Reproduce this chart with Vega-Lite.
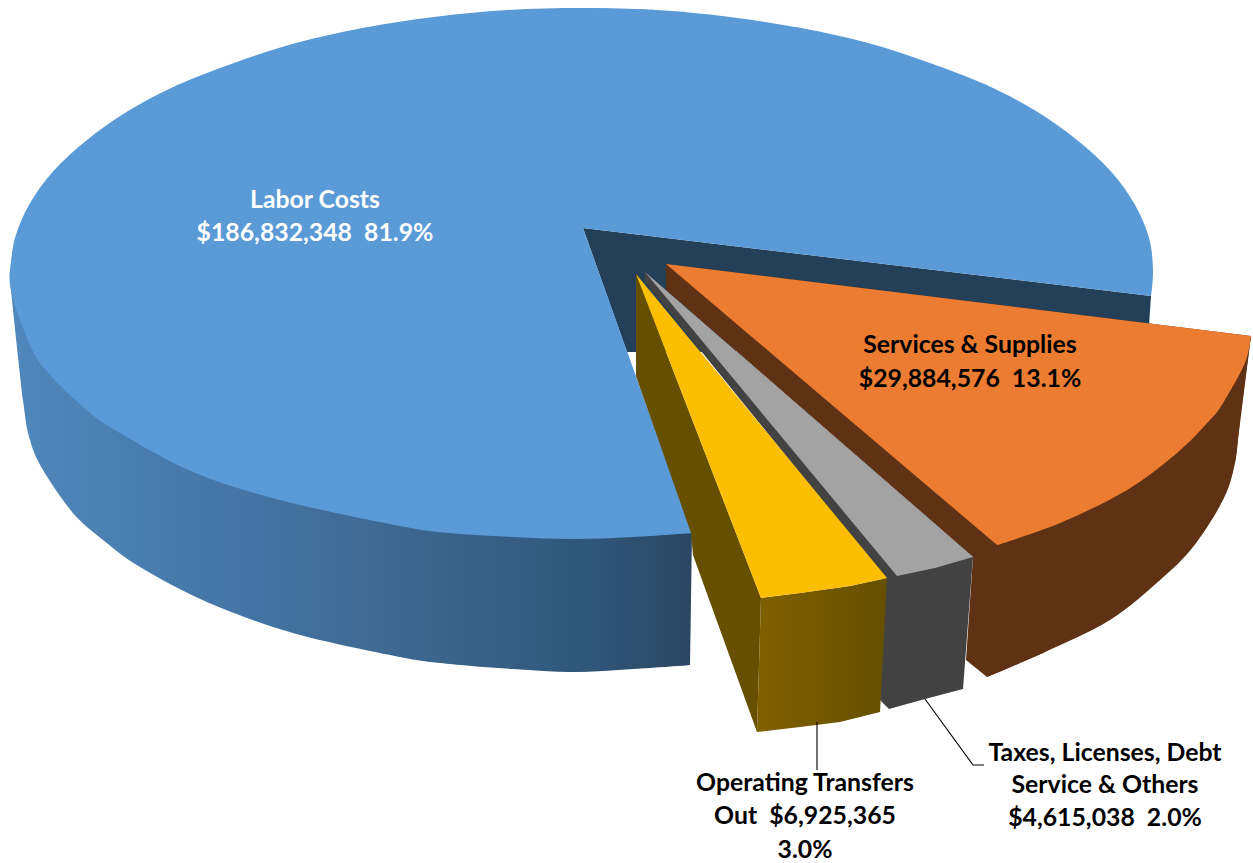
{
"$schema":"https://vega.github.io/schema/vega-lite/v6.json",
"width":1253,"height":863,"padding":0,
"autosize":{"type":"fit","contains":"padding"},
"background":"white",
"config":{"view":{"stroke":null}},
"datasets":{
"outlines":[
{"p":"blueSideCurve","i":1,"x":690,"y":665},{"p":"blueSideCurve","i":2,"x":633,"y":669},{"p":"blueSideCurve","i":3,"x":573,"y":672},{"p":"blueSideCurve","i":4,"x":513,"y":669},{"p":"blueSideCurve","i":5,"x":450,"y":664},{"p":"blueSideCurve","i":6,"x":400,"y":657},{"p":"blueSideCurve","i":7,"x":293,"y":633},{"p":"blueSideCurve","i":8,"x":207,"y":602},{"p":"blueSideCurve","i":9,"x":140,"y":567},{"p":"blueSideCurve","i":10,"x":103,"y":540},{"p":"blueSideCurve","i":11,"x":73,"y":513},{"p":"blueSideCurve","i":12,"x":43,"y":470},{"p":"blueSideCurve","i":13,"x":30,"y":440},{"p":"blueSideCurve","i":14,"x":23,"y":400},{"p":"blueSideCurve","i":15,"x":11,"y":290},{"p":"blueSideCurve","i":16,"x":10,"y":272},
{"p":"blueSidePoly","i":1,"x":10,"y":272},{"p":"blueSidePoly","i":2,"x":692,"y":533},{"p":"blueSidePoly","i":3,"x":690,"y":665},{"p":"blueSidePoly","i":4,"x":573,"y":672},{"p":"blueSidePoly","i":5,"x":400,"y":657},{"p":"blueSidePoly","i":6,"x":207,"y":602},{"p":"blueSidePoly","i":7,"x":73,"y":513},{"p":"blueSidePoly","i":8,"x":23,"y":400},
{"p":"wall","i":1,"x":583,"y":228},{"p":"wall","i":2,"x":1151,"y":296},{"p":"wall","i":3,"x":1148,"y":340},{"p":"wall","i":4,"x":700,"y":352},{"p":"wall","i":5,"x":627,"y":352},
{"p":"blueArc1","i":1,"x":1151,"y":296},{"p":"blueArc1","i":2,"x":1153,"y":270},{"p":"blueArc1","i":3,"x":1149,"y":238},{"p":"blueArc1","i":4,"x":1134.5,"y":204},{"p":"blueArc1","i":5,"x":1110.5,"y":171},{"p":"blueArc1","i":6,"x":1077,"y":140},{"p":"blueArc1","i":7,"x":1036,"y":111},{"p":"blueArc1","i":8,"x":986.5,"y":85},{"p":"blueArc1","i":9,"x":930,"y":63},{"p":"blueArc1","i":10,"x":868,"y":43},{"p":"blueArc1","i":11,"x":801,"y":28},{"p":"blueArc1","i":12,"x":730,"y":17},{"p":"blueArc1","i":13,"x":657,"y":10},{"p":"blueArc1","i":14,"x":582,"y":8},
{"p":"blueArc2","i":1,"x":657,"y":10},{"p":"blueArc2","i":2,"x":582,"y":8},{"p":"blueArc2","i":3,"x":507,"y":10},{"p":"blueArc2","i":4,"x":434,"y":17},{"p":"blueArc2","i":5,"x":363,"y":28},{"p":"blueArc2","i":6,"x":296,"y":43},{"p":"blueArc2","i":7,"x":234,"y":63},{"p":"blueArc2","i":8,"x":177.5,"y":85},{"p":"blueArc2","i":9,"x":128,"y":111},{"p":"blueArc2","i":10,"x":87,"y":140},{"p":"blueArc2","i":11,"x":53.5,"y":171},{"p":"blueArc2","i":12,"x":29.5,"y":204},{"p":"blueArc2","i":13,"x":15,"y":238},{"p":"blueArc2","i":14,"x":10,"y":272},
{"p":"blueArc3","i":1,"x":15,"y":238},{"p":"blueArc3","i":2,"x":10,"y":272},{"p":"blueArc3","i":3,"x":11,"y":290},{"p":"blueArc3","i":4,"x":20,"y":320},{"p":"blueArc3","i":5,"x":40,"y":363},{"p":"blueArc3","i":6,"x":83,"y":407},{"p":"blueArc3","i":7,"x":120,"y":433},{"p":"blueArc3","i":8,"x":193,"y":472},{"p":"blueArc3","i":9,"x":280,"y":500},{"p":"blueArc3","i":10,"x":400,"y":526},{"p":"blueArc3","i":11,"x":450,"y":533},{"p":"blueArc3","i":12,"x":513,"y":537},{"p":"blueArc3","i":13,"x":573,"y":539},{"p":"blueArc3","i":14,"x":633,"y":537},{"p":"blueArc3","i":15,"x":692,"y":533},
{"p":"bluePoly","i":1,"x":583,"y":228},{"p":"bluePoly","i":2,"x":1151,"y":296},{"p":"bluePoly","i":3,"x":1134.5,"y":204},{"p":"bluePoly","i":4,"x":986.5,"y":85},{"p":"bluePoly","i":5,"x":801,"y":28},{"p":"bluePoly","i":6,"x":582,"y":8},{"p":"bluePoly","i":7,"x":363,"y":28},{"p":"bluePoly","i":8,"x":177.5,"y":85},{"p":"bluePoly","i":9,"x":53.5,"y":171},{"p":"bluePoly","i":10,"x":10,"y":272},{"p":"bluePoly","i":11,"x":40,"y":363},{"p":"bluePoly","i":12,"x":120,"y":433},{"p":"bluePoly","i":13,"x":280,"y":500},{"p":"bluePoly","i":14,"x":513,"y":537},{"p":"bluePoly","i":15,"x":692,"y":533},
{"p":"brownArc","i":1,"x":1251,"y":336},{"p":"brownArc","i":2,"x":1240,"y":420},{"p":"brownArc","i":3,"x":1235,"y":463},{"p":"brownArc","i":4,"x":1223,"y":500},{"p":"brownArc","i":5,"x":1193,"y":547},{"p":"brownArc","i":6,"x":1160,"y":580},{"p":"brownArc","i":7,"x":1110,"y":620},{"p":"brownArc","i":8,"x":1043,"y":653},{"p":"brownArc","i":9,"x":987,"y":677},
{"p":"brownPoly","i":1,"x":666,"y":264},{"p":"brownPoly","i":2,"x":1251,"y":336},{"p":"brownPoly","i":3,"x":1235,"y":463},{"p":"brownPoly","i":4,"x":1160,"y":580},{"p":"brownPoly","i":5,"x":1043,"y":653},{"p":"brownPoly","i":6,"x":987,"y":677},{"p":"brownPoly","i":7,"x":966,"y":660},{"p":"brownPoly","i":8,"x":973,"y":557},{"p":"brownPoly","i":9,"x":666,"y":290},
{"p":"graySide","i":1,"x":645,"y":272},{"p":"graySide","i":2,"x":973,"y":557},{"p":"graySide","i":3,"x":963,"y":689},{"p":"graySide","i":4,"x":925,"y":699},{"p":"graySide","i":5,"x":889,"y":709},{"p":"graySide","i":6,"x":880,"y":700},{"p":"graySide","i":7,"x":885,"y":578},{"p":"graySide","i":8,"x":645,"y":282},
{"p":"grayTop","i":1,"x":645,"y":272},{"p":"grayTop","i":2,"x":973,"y":557},{"p":"grayTop","i":3,"x":935,"y":568},{"p":"grayTop","i":4,"x":897,"y":576},
{"p":"goldWall","i":1,"x":636,"y":274},{"p":"goldWall","i":2,"x":761,"y":598},{"p":"goldWall","i":3,"x":757,"y":732},{"p":"goldWall","i":4,"x":693,"y":555},{"p":"goldWall","i":5,"x":691,"y":533},{"p":"goldWall","i":6,"x":636,"y":376},
{"p":"goldFront","i":1,"x":761,"y":598},{"p":"goldFront","i":2,"x":800,"y":593},{"p":"goldFront","i":3,"x":850,"y":586},{"p":"goldFront","i":4,"x":887,"y":578},{"p":"goldFront","i":5,"x":880,"y":712},{"p":"goldFront","i":6,"x":840,"y":722},{"p":"goldFront","i":7,"x":800,"y":727},{"p":"goldFront","i":8,"x":757,"y":732},
{"p":"goldTop","i":1,"x":636,"y":274},{"p":"goldTop","i":2,"x":887,"y":578},{"p":"goldTop","i":3,"x":850,"y":586},{"p":"goldTop","i":4,"x":800,"y":593},{"p":"goldTop","i":5,"x":761,"y":598},
{"p":"orangeArc","i":1,"x":1251,"y":336},{"p":"orangeArc","i":2,"x":1245,"y":363},{"p":"orangeArc","i":3,"x":1223,"y":403},{"p":"orangeArc","i":4,"x":1210,"y":420},{"p":"orangeArc","i":5,"x":1177,"y":453},{"p":"orangeArc","i":6,"x":1127,"y":490},{"p":"orangeArc","i":7,"x":1060,"y":523},{"p":"orangeArc","i":8,"x":997,"y":545},
{"p":"orangePoly","i":1,"x":666,"y":264},{"p":"orangePoly","i":2,"x":1251,"y":336},{"p":"orangePoly","i":3,"x":1223,"y":403},{"p":"orangePoly","i":4,"x":1177,"y":453},{"p":"orangePoly","i":5,"x":1127,"y":490},{"p":"orangePoly","i":6,"x":1060,"y":523},{"p":"orangePoly","i":7,"x":997,"y":545}
],
"leaders":[
{"slice":"Operating Transfers Out","i":1,"x":817,"y":722},{"slice":"Operating Transfers Out","i":2,"x":817,"y":770},
{"slice":"Taxes, Licenses, Debt Service & Others","i":1,"x":925,"y":699},{"slice":"Taxes, Licenses, Debt Service & Others","i":2,"x":973,"y":765},{"slice":"Taxes, Licenses, Debt Service & Others","i":3,"x":984,"y":765}
],
"labels":[
{"slice":"Labor Costs","text":"Labor Costs","x":315,"y":201},
{"slice":"Labor Costs","text":"$186,832,348\u00a0\u00a081.9%","x":315,"y":234},
{"slice":"Services & Supplies","text":"Services & Supplies","x":970,"y":346},
{"slice":"Services & Supplies","text":"$29,884,576\u00a0\u00a013.1%","x":970,"y":380},
{"slice":"Taxes","text":"Taxes, Licenses, Debt","x":1105,"y":754},
{"slice":"Taxes","text":"Service & Others","x":1105,"y":786},
{"slice":"Taxes","text":"$4,615,038\u00a0\u00a02.0%","x":1105,"y":819},
{"slice":"Operating","text":"Operating Transfers","x":805,"y":784},
{"slice":"Operating","text":"Out\u00a0\u00a0$6,925,365","x":805,"y":817},
{"slice":"Operating","text":"3.0%","x":805,"y":851}
]
},
"encoding":{
"x":{"field":"x","type":"quantitative","scale":{"domain":[0,1253],"nice":false,"zero":false},"axis":null},
"y":{"field":"y","type":"quantitative","scale":{"domain":[863,0],"nice":false,"zero":false},"axis":null},
"order":{"field":"i","type":"quantitative"}
},
"layer":[
{"data":{"name":"outlines"},"transform":[{"filter":"datum.p==='blueSideCurve'"}],
"mark":{"type":"line","interpolate":"cardinal","stroke":null,"fill":{"gradient":"linear","x1":0,"x2":1,"y1":0,"y2":0,"stops":[{"offset":0,"color":"#5088bc"},{"offset":0.3,"color":"#4577a8"},{"offset":0.57,"color":"#3e6890"},{"offset":0.85,"color":"#30567a"},{"offset":1,"color":"#2a4762"}]}}},
{"data":{"name":"outlines"},"transform":[{"filter":"datum.p==='blueSidePoly'"}],
"mark":{"type":"line","stroke":null,"fill":{"gradient":"linear","x1":0,"x2":1,"y1":0,"y2":0,"stops":[{"offset":0,"color":"#5088bc"},{"offset":0.3,"color":"#4577a8"},{"offset":0.57,"color":"#3e6890"},{"offset":0.85,"color":"#30567a"},{"offset":1,"color":"#2a4762"}]}}},
{"data":{"name":"outlines"},"transform":[{"filter":"datum.p==='wall'"}],"mark":{"type":"line","stroke":null,"fill":"#243f58"}},
{"data":{"name":"outlines"},"transform":[{"filter":"datum.p==='blueArc1'||datum.p==='blueArc2'||datum.p==='blueArc3'"}],"mark":{"type":"line","interpolate":"cardinal","stroke":null,"fill":"#5a9ad7"},"encoding":{"detail":{"field":"p"}}},
{"data":{"name":"outlines"},"transform":[{"filter":"datum.p==='bluePoly'"}],"mark":{"type":"line","stroke":null,"fill":"#5a9ad7"}},
{"data":{"name":"outlines"},"transform":[{"filter":"datum.p==='brownArc'"}],"mark":{"type":"line","interpolate":"cardinal","stroke":null,"fill":"#5f3215"}},
{"data":{"name":"outlines"},"transform":[{"filter":"datum.p==='brownPoly'"}],"mark":{"type":"line","stroke":null,"fill":"#5f3215"}},
{"data":{"name":"outlines"},"transform":[{"filter":"datum.p==='graySide'"}],"mark":{"type":"line","stroke":null,"fill":"#424242"}},
{"data":{"name":"outlines"},"transform":[{"filter":"datum.p==='grayTop'"}],"mark":{"type":"line","stroke":null,"fill":"#a3a3a3"}},
{"data":{"name":"outlines"},"transform":[{"filter":"datum.p==='goldWall'"}],"mark":{"type":"line","stroke":null,"fill":"#674f00"}},
{"data":{"name":"outlines"},"transform":[{"filter":"datum.p==='goldFront'"}],
"mark":{"type":"line","stroke":null,"fill":{"gradient":"linear","x1":0,"x2":1,"y1":0,"y2":0,"stops":[{"offset":0,"color":"#7f6000"},{"offset":1,"color":"#654f00"}]}}},
{"data":{"name":"outlines"},"transform":[{"filter":"datum.p==='goldTop'"}],"mark":{"type":"line","stroke":null,"fill":"#fbbe00"}},
{"data":{"name":"outlines"},"transform":[{"filter":"datum.p==='orangeArc'"}],"mark":{"type":"line","interpolate":"cardinal","stroke":null,"fill":"#eb7c31"}},
{"data":{"name":"outlines"},"transform":[{"filter":"datum.p==='orangePoly'"}],"mark":{"type":"line","stroke":null,"fill":"#eb7c31"}},
{"data":{"name":"leaders"},
"mark":{"type":"line","color":"#000000","strokeWidth":1.1},
"encoding":{"detail":{"field":"slice"}}},
{"data":{"name":"labels"},
"mark":{"type":"text","font":"Lato","fontWeight":"bold","fontSize":24.8,"align":"center","baseline":"middle"},
"encoding":{"order":null,"text":{"field":"text"},"color":{"field":"slice","type":"nominal","legend":null,"scale":{"domain":["Labor Costs","Services & Supplies","Taxes","Operating"],"range":["#ffffff","#000000","#000000","#000000"]}}}}
]
}
